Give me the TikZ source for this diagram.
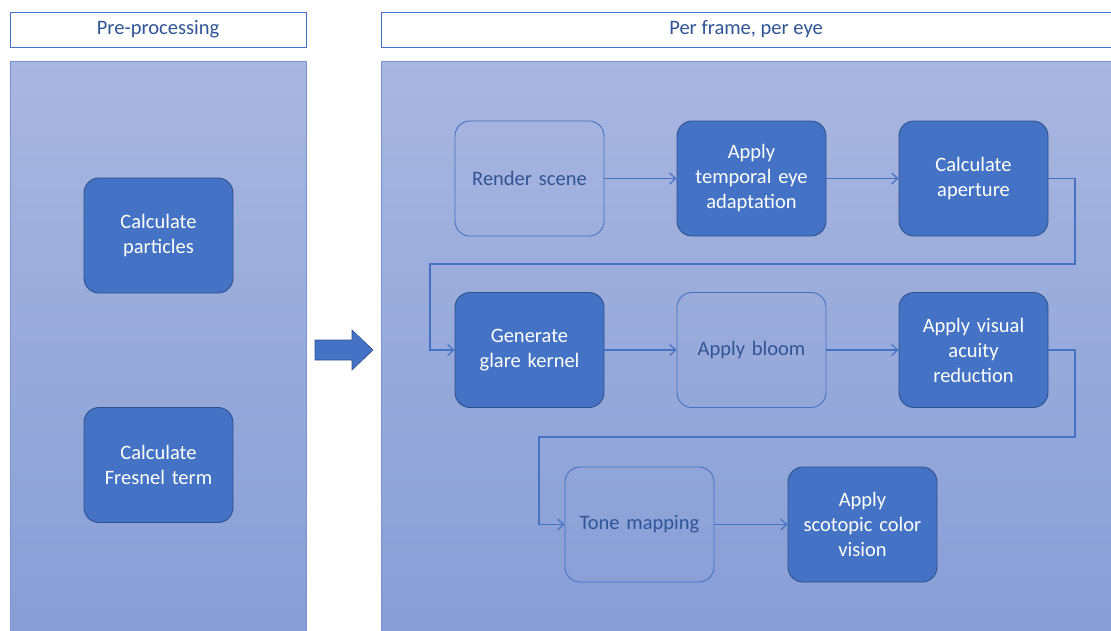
\documentclass[tikz,border=0pt]{standalone}
\usepackage{fontspec}
\setmainfont{Carlito}
\usetikzlibrary{arrows.meta,positioning,calc}
\definecolor{stepblue}{RGB}{68,114,196}
\definecolor{edgeblue}{RGB}{47,82,143}
\definecolor{textblue}{RGB}{47,85,151}
\definecolor{paneltop}{RGB}{169,182,223}
\definecolor{panelbot}{RGB}{135,158,214}
\definecolor{panelline}{RGB}{120,150,215}

\tikzset{
  heading/.style={draw=stepblue, fill=white, text=textblue, minimum height=35,
    line width=0.9, font=\fontsize{20.5}{24}\selectfont},
  panel/.style={draw=panelline, top color=paneltop, bottom color=panelbot, line width=0.9},
  stage/.style={rectangle, rounded corners=15, minimum width=149, minimum height=115,
    text width=144, inner xsep=2, align=center, line width=0.9,
    font=\fontsize{20.5}{25}\selectfont},
  gpustage/.style={stage, draw=edgeblue, fill=stepblue, text=white},
  plainstage/.style={stage, draw=stepblue, text=textblue},
  flow/.style={draw=stepblue, line width=1.2, -{Straight Barb[length=6,width=11]}}
}

\begin{document}
\begin{tikzpicture}[x=1pt, y=-1pt]
    \useasboundingbox (0,0) rectangle (1111,630);

    % Headings
    \node[heading, minimum width=296] (preHead) at (158,29.5) {Pre-processing};
    \node[heading, minimum width=730] (frameHead) at (746,29.5) {Per frame, per eye};

    % Panels
    \path[panel] (10,61) rectangle (306,634);
    \path[panel] (381,61) rectangle (1113,634);

    % Pre-processing steps
    \node[gpustage] (particles) at (158.5,235.5) {Calculate\\particles};
    \node[gpustage] (fresnel) at (158.5,465) {Calculate\\Fresnel term};

    % Block arrow between the panels
    \filldraw[fill=stepblue, draw=edgeblue, line width=0.6]
        (315,340) -- (352,340) -- (352,330) -- (373,350) -- (352,370) -- (352,360) -- (315,360) -- cycle;

    % Per-frame pipeline, row 1
    \node[plainstage] (render) at (529.5,178.5) {Render scene};
    \node[gpustage] (adapt) at (751.5,178.5) {Apply\\temporal eye\\adaptation};
    \node[gpustage] (aperture) at (973.5,178.5) {Calculate\\aperture};

    % Row 2
    \node[gpustage] (glare) at (529.5,350) {Generate\\glare kernel};
    \node[plainstage] (bloom) at (751.5,350) {Apply bloom};
    \node[gpustage] (acuity) at (973.5,350) {Apply visual\\acuity\\reduction};

    % Row 3
    \node[plainstage] (tonemap) at (639.5,524.5) {Tone mapping};
    \node[gpustage] (scotopic) at (862.5,524.5) {Apply\\scotopic color\\vision};

    % Wrap-around corners
    \coordinate (wrapA) at (1075,264);
    \coordinate (wrapB) at (430,350);
    \coordinate (wrapC) at (1075,437);
    \coordinate (wrapD) at (539,524.5);

    % Connectors
    \draw[flow] (render) -- (adapt);
    \draw[flow] (adapt) -- (aperture);
    \draw[flow] (aperture.east) -| (wrapA) -| (wrapB) -- (glare.west);
    \draw[flow] (glare) -- (bloom);
    \draw[flow] (bloom) -- (acuity);
    \draw[flow] (acuity.east) -| (wrapC) -| (wrapD) -- (tonemap.west);
    \draw[flow] (tonemap) -- (scotopic);
\end{tikzpicture}
\end{document}
